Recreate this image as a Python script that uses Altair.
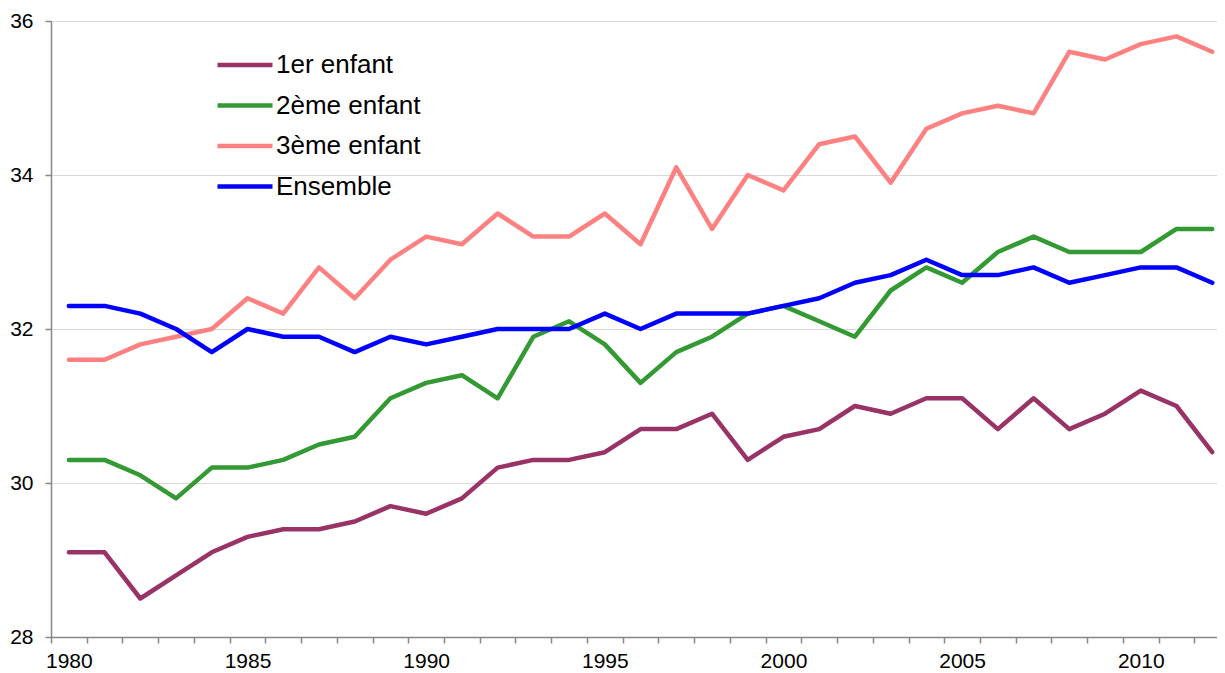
import altair as alt
import pandas as pd

years = list(range(1980, 2013))
premier = [29.1, 29.1, 28.5, 28.8, 29.1, 29.3, 29.4, 29.4, 29.5, 29.7, 29.6,
           29.8, 30.2, 30.3, 30.3, 30.4, 30.7, 30.7, 30.9, 30.3, 30.6, 30.7,
           31.0, 30.9, 31.1, 31.1, 30.7, 31.1, 30.7, 30.9, 31.2, 31.0, 30.4]
deuxieme = [30.3, 30.3, 30.1, 29.8, 30.2, 30.2, 30.3, 30.5, 30.6, 31.1, 31.3,
            31.4, 31.1, 31.9, 32.1, 31.8, 31.3, 31.7, 31.9, 32.2, 32.3, 32.1,
            31.9, 32.5, 32.8, 32.6, 33.0, 33.2, 33.0, 33.0, 33.0, 33.3, 33.3]
troisieme = [31.6, 31.6, 31.8, 31.9, 32.0, 32.4, 32.2, 32.8, 32.4, 32.9, 33.2,
             33.1, 33.5, 33.2, 33.2, 33.5, 33.1, 34.1, 33.3, 34.0, 33.8, 34.4,
             34.5, 33.9, 34.6, 34.8, 34.9, 34.8, 35.6, 35.5, 35.7, 35.8, 35.6]
ensemble = [32.3, 32.3, 32.2, 32.0, 31.7, 32.0, 31.9, 31.9, 31.7, 31.9, 31.8,
            31.9, 32.0, 32.0, 32.0, 32.2, 32.0, 32.2, 32.2, 32.2, 32.3, 32.4,
            32.6, 32.7, 32.9, 32.7, 32.7, 32.8, 32.6, 32.7, 32.8, 32.8, 32.6]

series_names = ["1er enfant", "2ème enfant", "3ème enfant", "Ensemble"]
series_colors = ["#993366", "#339933", "#FF8080", "#0000FF"]
y_ticks = [28, 30, 32, 34, 36]

rows = []
for name, vals in zip(series_names, [premier, deuxieme, troisieme, ensemble]):
    for yr, v in zip(years, vals):
        rows.append({"annee": yr, "age": v, "serie": name})
df = pd.DataFrame(rows)

px_per_year = 35.73
W, H = 1166, 616
x_min = 1979.5
x_max = x_min + W / px_per_year
tick_values = [years[0] - 0.5 + k for k in range(len(years))]

FONT = "Liberation Sans"
AXIS_COLOR = "#868686"

chart = alt.Chart(df).mark_line(
    strokeWidth=4.5, strokeCap="round", strokeJoin="round"
).encode(
    x=alt.X(
        "annee:Q",
        scale=alt.Scale(domain=[x_min, x_max], nice=False, zero=False),
        axis=alt.Axis(
            values=tick_values,
            labelExpr="((datum.value + 0.5) % 5 === 0) ? format(datum.value + 0.5, 'd') : ''",
            labelOffset=px_per_year / 2,
            labelOverlap=False,
            labelFlush=False,
            grid=False,
            title=None,
            tickSize=6,
            labelPadding=7,
            labelFontSize=21,
            labelFont=FONT,
            labelColor="#000000",
        ),
    ),
    y=alt.Y(
        "age:Q",
        scale=alt.Scale(domain=[28, 36], nice=False, zero=False),
        axis=alt.Axis(values=y_ticks, title=None, grid=True, tickSize=6,
                      labelPadding=12, labelFontSize=21, labelFont=FONT,
                      labelColor="#000000"),
    ),
    color=alt.Color(
        "serie:N",
        scale=alt.Scale(domain=series_names, range=series_colors),
        legend=alt.Legend(
            title=None,
            orient="none",
            legendX=178,
            legendY=28,
            symbolType="M-2,0H2",
            symbolSize=756,
            symbolStrokeWidth=4.5,
            labelFontSize=26,
            labelFont=FONT,
            labelColor="#000000",
            labelOffset=15,
            rowPadding=11.5,
            padding=0,
        ),
    ),
).properties(
    width=W,
    height=H,
    autosize=alt.AutoSizeParams(type="none"),
    padding={"left": 43, "top": 13, "right": 0, "bottom": 36},
).configure_view(
    stroke=None
).configure_axis(
    domainColor=AXIS_COLOR,
    domainWidth=1.5,
    tickColor=AXIS_COLOR,
    tickWidth=1.5,
    gridColor="#d9d9d9",
    gridWidth=1,
)

chart.save("out.html", embed_options={"renderer": "svg", "actions": False})
